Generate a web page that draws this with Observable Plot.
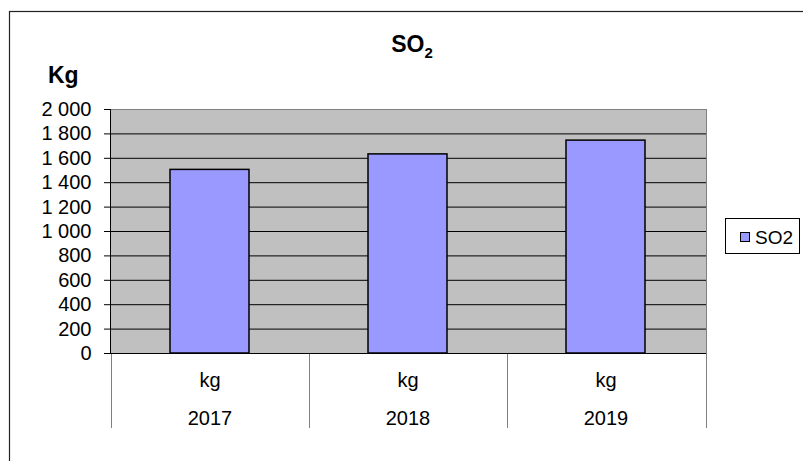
<!DOCTYPE html>
<html><head><meta charset="utf-8">
<script src="https://cdn.jsdelivr.net/npm/d3@7"></script>
<script src="https://cdn.jsdelivr.net/npm/@observablehq/plot@0.6"></script>
<style>html,body{margin:0;padding:0;background:#fff;} svg{display:block}</style>
</head><body><div id="chart"></div>
<script>
const years = ["2017", "2018", "2019"];
const values = [1505, 1632, 1745];
const unitLabel = "kg";
const seriesName = "SO2";
const yTicks = [0, 200, 400, 600, 800, 1000, 1200, 1400, 1600, 1800, 2000];
const titleMain = "SO";
const titleSub = "2";
const yTitle = "Kg";

const data = years.map((year, i) => ({year, value: values[i]}));
const fmt = d3.formatLocale({thousands: " ", grouping: [3], decimal: ",", currency: ["", ""]}).format(",");
const FONT = "'Liberation Sans', Arial, sans-serif";

const plot = Plot.plot({
  width: 803, height: 461,
  marginLeft: 110, marginRight: 97, marginTop: 109, marginBottom: 108,
  style: {fontFamily: FONT, fontSize: "20px", color: "#000", background: "#fff", overflow: "visible"},
  x: {domain: years, paddingInner: 0.6, paddingOuter: 0.3, axis: null},
  y: {domain: [0, 2000], axis: null},
  marks: [
    Plot.frame({fill: "#c0c0c0", stroke: "#808080"}),
    Plot.gridY(yTicks.filter(v => v > 0 && v < 2000), {stroke: "#000", strokeOpacity: 1}),
    Plot.barY(data, {x: "year", y: "value", fill: "#9999ff", stroke: "#000", strokeWidth: 1.5}),
    Plot.ruleY([0], {stroke: "#000"}),
    Plot.axisY(yTicks, {tickFormat: fmt, tickSize: 6, tickPadding: 13, fontSize: 20, anchor: "left", label: null, stroke: "#000"}),
    Plot.text(data, {x: "year", text: () => unitLabel, frameAnchor: "bottom", dy: 33, lineAnchor: "bottom", fontSize: 20}),
    Plot.text(data, {x: "year", text: "year", frameAnchor: "bottom", dy: 71, lineAnchor: "bottom", fontSize: 20})
  ]
});
document.getElementById("chart").appendChild(plot);

const svg = d3.select(plot);
const xs = plot.scale("x"), ys = plot.scale("y");
const left = xs.range[0], right = xs.range[1];
const y0 = ys.apply(0), yTop = ys.apply(2000);
const step = xs.step || (right - left) / years.length;
const outer = (step - xs.bandwidth) / 2;

// outer chart border
svg.append("rect").attr("x", 9.5).attr("y", 11.5).attr("width", 1000).attr("height", 800)
  .attr("fill", "none").attr("stroke", "#222").attr("stroke-width", 1.2);

// left axis line
svg.append("line").attr("x1", left + 0.5).attr("x2", left + 0.5).attr("y1", yTop).attr("y2", y0 + 0.5)
  .attr("stroke", "#000");

// category separators
const seps = years.map(d => xs.apply(d) - outer).concat([right]);
svg.append("g").selectAll("line").data(seps).join("line")
  .attr("x1", d => Math.round(d) + 0.5).attr("x2", d => Math.round(d) + 0.5)
  .attr("y1", y0 + 1).attr("y2", y0 + 75)
  .attr("stroke", "#808080");

// title
const t = svg.append("text").attr("x", 412).attr("y", 52).attr("text-anchor", "middle")
  .style("font-family", FONT).style("font-weight", "bold").style("font-size", "23px").attr("fill", "#000");
t.append("tspan").text(titleMain);
t.append("tspan").attr("dy", 6).style("font-size", "15px").text(titleSub);

// y title
svg.append("text").attr("x", 48).attr("y", 82.5).attr("text-anchor", "start")
  .style("font-family", FONT).style("font-weight", "bold").style("font-size", "23px").attr("fill", "#000")
  .text(yTitle);

// legend
const lg = svg.append("g");
lg.append("rect").attr("x", 725.5).attr("y", 218.5).attr("width", 74).attr("height", 35)
  .attr("fill", "#fff").attr("stroke", "#000");
lg.append("rect").attr("x", 740.5).attr("y", 232.5).attr("width", 9).attr("height", 9)
  .attr("fill", "#9999ff").attr("stroke", "#000");
lg.append("text").attr("x", 755).attr("y", 243.5).attr("text-anchor", "start")
  .style("font-family", FONT).style("font-size", "19px").attr("fill", "#000").text(seriesName);
</script>
</body></html>
